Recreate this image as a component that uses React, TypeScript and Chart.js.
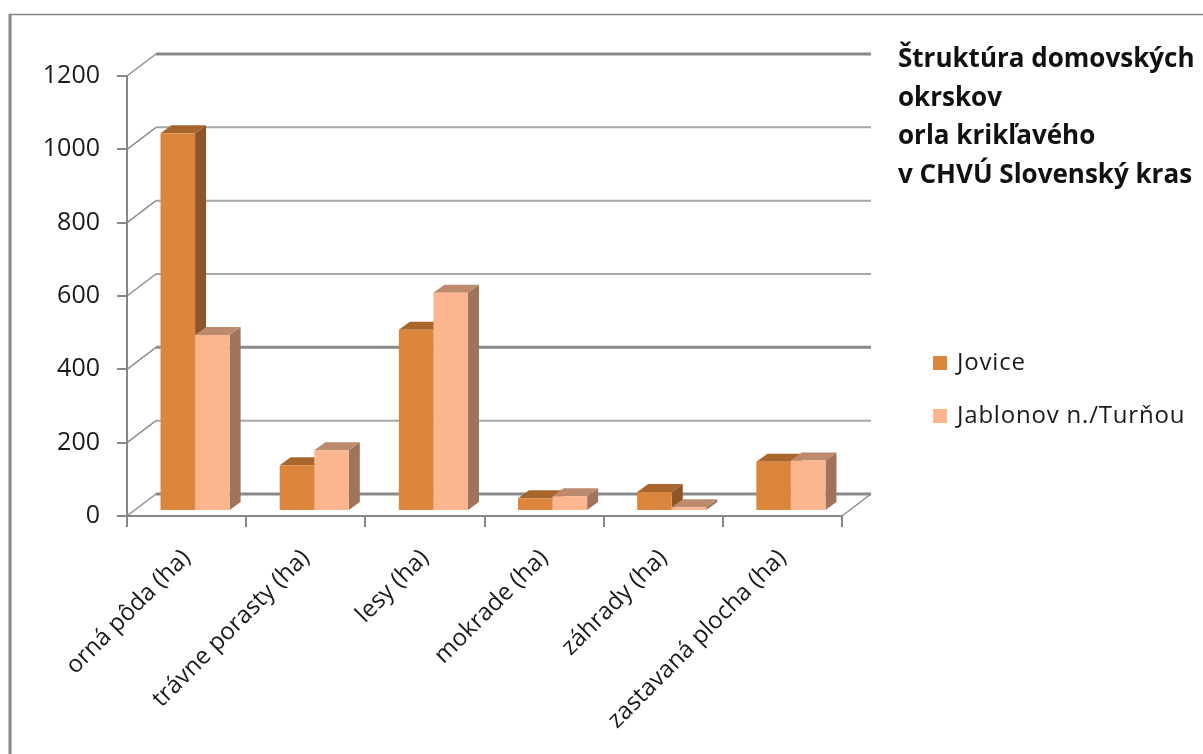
import React, { useEffect, useRef } from "react";
import { Chart, registerables } from "chart.js";

Chart.register(...registerables);

const categories = [
  "orná pôda (ha)",
  "trávne porasty (ha)",
  "lesy (ha)",
  "mokrade (ha)",
  "záhrady (ha)",
  "zastavaná plocha (ha)",
];
const seriesNames = ["Jovice", "Jablonov n./Turňou"];
const jovice = [1030, 125, 494, 35, 52, 134];
const jablonov = [480, 166, 595, 40, 10, 138];
const titleLines = [
  "Štruktúra domovských",
  "okrskov",
  "orla krikľavého",
  "v CHVÚ Slovenský kras",
];

const FONT = '"Open Sans"';
const frontColors = ["#DC853D", "#FBB690"];
const sideColors = ["#8E5529", "#A0745A"];
const topColors = ["#A8662D", "#BC8A6C"];
const wallWidths = [3, 2, 3, 2, 2, 2, 3];
const WALL_DX = 29;
const WALL_DY = -22;
const BAR_SHIFT_X = 8.5;
const BAR_SHIFT_Y = -5;
const DEPTH_X = 11;
const DEPTH_Y = -8;

function poly(ctx: CanvasRenderingContext2D, pts: number[][], color: string) {
  ctx.fillStyle = color;
  ctx.beginPath();
  pts.forEach((p, i) => (i ? ctx.lineTo(p[0], p[1]) : ctx.moveTo(p[0], p[1])));
  ctx.closePath();
  ctx.fill();
}

const chrome3d = {
  id: "chrome3d",
  beforeDraw(chart: any) {
    const { ctx, width, height, scales, chartArea } = chart;
    ctx.save();
    ctx.fillStyle = "#fff";
    ctx.fillRect(0, 0, width, height);
    // outer frame
    ctx.strokeStyle = "#868686";
    ctx.lineWidth = 3;
    ctx.beginPath();
    ctx.moveTo(10, height);
    ctx.lineTo(10, 14);
    ctx.stroke();
    ctx.lineWidth = 1.5;
    ctx.beginPath();
    ctx.moveTo(9, 14.5);
    ctx.lineTo(width, 14.5);
    ctx.stroke();
    // back wall and side of the floor, built from the y scale
    const y = scales.y;
    ctx.lineCap = "butt";
    y.ticks.forEach((t: any, i: number) => {
      const py = y.getPixelForValue(t.value);
      ctx.strokeStyle = "#8E8E8E";
      ctx.lineWidth = 1.5;
      ctx.beginPath();
      ctx.moveTo(chartArea.left, py);
      ctx.lineTo(chartArea.left + WALL_DX, py + WALL_DY);
      ctx.stroke();
      ctx.strokeStyle = wallWidths[i] === 3 ? "#8A8A8A" : "#A6A6A6";
      ctx.lineWidth = wallWidths[i];
      ctx.beginPath();
      ctx.moveTo(chartArea.left + WALL_DX, py + WALL_DY);
      ctx.lineTo(chartArea.right + WALL_DX, py + WALL_DY);
      ctx.stroke();
    });
    ctx.strokeStyle = "#8E8E8E";
    ctx.lineWidth = 1.5;
    ctx.beginPath();
    ctx.moveTo(chartArea.right, chartArea.bottom);
    ctx.lineTo(chartArea.right + WALL_DX, chartArea.bottom + WALL_DY);
    ctx.stroke();
    ctx.restore();
  },
  beforeDatasetDraw() {
    return false;
  },
  afterDatasetsDraw(chart: any) {
    const { ctx } = chart;
    chart.data.datasets.forEach((_: any, di: number) => {
      const meta = chart.getDatasetMeta(di);
      ctx.save();
      ctx.translate(BAR_SHIFT_X, BAR_SHIFT_Y);
      meta.data.forEach((bar: any) => {
        const l = bar.x - bar.width / 2;
        const r = bar.x + bar.width / 2;
        const t = bar.y;
        const b = bar.base;
        poly(ctx, [[r, t], [r + DEPTH_X, t + DEPTH_Y], [r + DEPTH_X, b + DEPTH_Y], [r, b]], sideColors[di]);
        poly(ctx, [[l, t], [l + DEPTH_X, t + DEPTH_Y], [r + DEPTH_X, t + DEPTH_Y], [r, t]], topColors[di]);
      });
      meta.controller.draw();
      ctx.restore();
    });
  },
  afterDraw(chart: any) {
    const { ctx } = chart;
    ctx.save();
    ctx.textBaseline = "middle";
    ctx.textAlign = "left";
    ctx.fillStyle = "#111";
    ctx.font = `bold 26px ${FONT}`;
    const titleY = [60, 99, 137, 176];
    titleLines.forEach((line, i) => ctx.fillText(line, 898, titleY[i]));
    ctx.font = `24px ${FONT}`;
    (ctx as any).letterSpacing = "0.8px";
    const legendY = [363, 416];
    seriesNames.forEach((name, i) => {
      ctx.fillStyle = frontColors[i];
      ctx.fillRect(933, legendY[i] - 7, 14, 14);
      ctx.fillStyle = "#1a1a1a";
      ctx.fillText(name, 957, legendY[i]);
    });
    ctx.restore();
  },
};

export default function App() {
  const ref = useRef<HTMLCanvasElement>(null);
  useEffect(() => {
    document.body.style.margin = "0";
    const chart = new Chart(ref.current as HTMLCanvasElement, {
      type: "bar",
      data: {
        labels: categories,
        datasets: [
          { label: seriesNames[0], data: jovice, backgroundColor: frontColors[0] },
          { label: seriesNames[1], data: jablonov, backgroundColor: frontColors[1] },
        ],
      },
      plugins: [chrome3d],
      options: {
        responsive: false,
        animation: false,
        devicePixelRatio: 1,
        barPercentage: 1,
        categoryPercentage: 0.58,
        layout: { padding: { top: 76, right: 361, left: 0, bottom: 0 } },
        plugins: { legend: { display: false }, title: { display: false }, tooltip: { enabled: false } },
        scales: {
          x: {
            afterFit: (s: any) => { s.height = 238; },
            border: { color: "#868686", width: 2 },
            grid: { drawOnChartArea: false, offset: true, color: "#868686", lineWidth: 2, tickLength: 11 },
            ticks: {
              color: "#1a1a1a",
              font: { family: FONT, size: 24 },
              minRotation: 45,
              maxRotation: 45,
              autoSkip: false,
              padding: 17,
            },
          },
          y: {
            min: 0,
            max: 1200,
            afterFit: (s: any) => { s.width = 127; },
            border: { color: "#868686", width: 2 },
            grid: { drawOnChartArea: false, color: "#868686", lineWidth: 2, tickLength: 10 },
            ticks: {
              stepSize: 200,
              color: "#1a1a1a",
              font: { family: FONT, size: 25 },
              padding: 17,
              callback: (v: any) => String(v),
            },
          },
        },
      } as any,
    });
    return () => chart.destroy();
  }, []);
  return <canvas ref={ref} width={1203} height={754} style={{ display: "block", width: 1203, height: 754 }} />;
}
